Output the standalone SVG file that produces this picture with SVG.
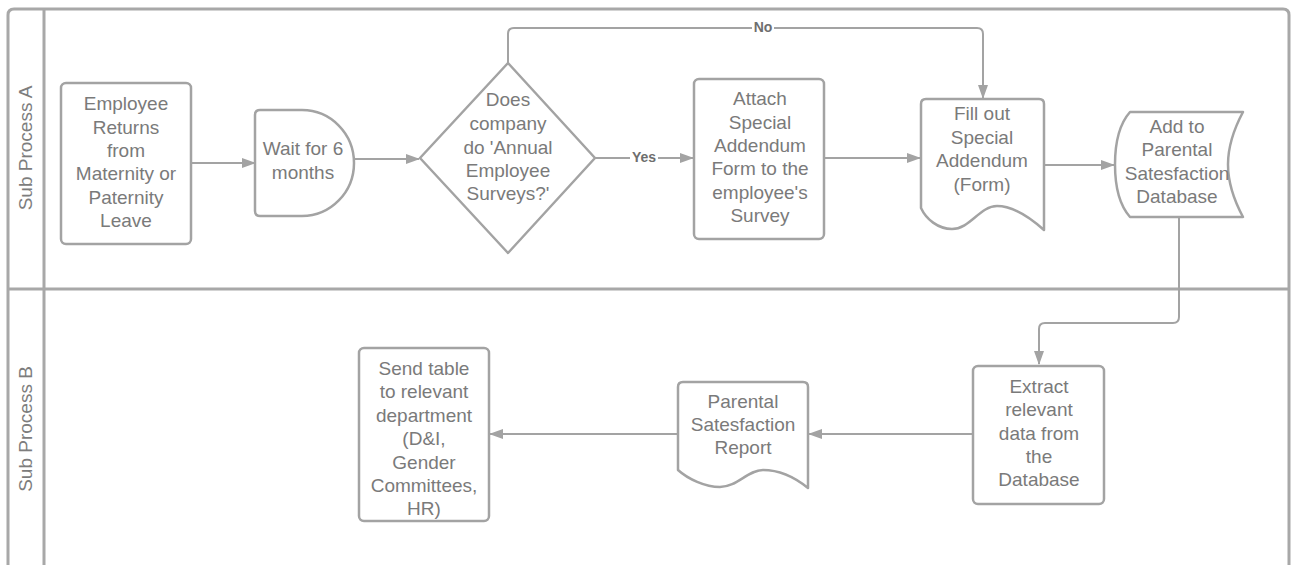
<svg xmlns="http://www.w3.org/2000/svg" width="1293" height="565" viewBox="0 0 1293 565">
<defs>
<style>
.frame{fill:none;stroke:#a8a8a8;stroke-width:3}
.shape{fill:#fff;stroke:#a3a3a3;stroke-width:2.5;stroke-linejoin:round}
.conn{fill:none;stroke:#a3a3a3;stroke-width:2}
.t{font-family:"Liberation Sans",Arial,sans-serif;font-size:19px;fill:#7a7a7a;text-anchor:middle}
.lane{font-family:"Liberation Sans",Arial,sans-serif;font-size:19px;fill:#7d7d7d;text-anchor:middle}
.lbl{font-family:"Liberation Sans",Arial,sans-serif;font-size:14px;font-weight:bold;fill:#6e6e6e;text-anchor:middle}
</style>
<marker id="arr" viewBox="0 0 14 10" refX="13" refY="5" markerWidth="14" markerHeight="10" markerUnits="userSpaceOnUse" orient="auto">
<path d="M0,0 L14,5 L0,10 Z" fill="#a3a3a3"/>
</marker>
</defs>
<rect width="1293" height="565" fill="#fff"/>
<g id="pool">
<path class="frame" d="M8,570 V15 Q8,9 14,9 H1283 Q1289,9 1289,15 V570"/>
<line class="frame" x1="44" y1="9" x2="44" y2="570"/>
<line class="frame" x1="8" y1="289" x2="1289" y2="289"/>
<text class="lane" transform="translate(32,148) rotate(-90)">Sub Process A</text>
<text class="lane" transform="translate(32,429) rotate(-90)">Sub Process B</text>
</g>
<g id="connectors">
<line class="conn" x1="191" y1="163" x2="255" y2="163" marker-end="url(#arr)"/>
<line class="conn" x1="354" y1="159" x2="419" y2="159" marker-end="url(#arr)"/>
<line class="conn" x1="595" y1="158" x2="693" y2="158" marker-end="url(#arr)"/>
<rect x="630" y="150" width="28" height="15" fill="#fff"/>
<text class="lbl" x="644" y="162">Yes</text>
<path class="conn" d="M508,63 V34 Q508,28 514,28 H977 Q983,28 983,34 V98" marker-end="url(#arr)"/>
<rect x="752" y="20" width="22" height="15" fill="#fff"/>
<text class="lbl" x="763" y="32">No</text>
<line class="conn" x1="824" y1="158" x2="920" y2="158" marker-end="url(#arr)"/>
<line class="conn" x1="1044" y1="165" x2="1114" y2="165" marker-end="url(#arr)"/>
<path class="conn" d="M1179,217 V317 Q1179,323 1173,323 H1045 Q1039,323 1039,329 V364" marker-end="url(#arr)"/>
<line class="conn" x1="973" y1="434" x2="809" y2="434" marker-end="url(#arr)"/>
<line class="conn" x1="678" y1="434" x2="490" y2="434" marker-end="url(#arr)"/>
</g>
<g id="n-employee">
<rect class="shape" x="61" y="83" width="130" height="161" rx="5"/>
<text class="t"><tspan x="126" y="110">Employee</tspan><tspan x="126" y="134">Returns</tspan><tspan x="126" y="157">from</tspan><tspan x="126" y="180">Maternity or</tspan><tspan x="126" y="204">Paternity</tspan><tspan x="126" y="227">Leave</tspan></text>
</g>
<g id="n-wait">
<path class="shape" d="M255,115 Q255,110 260,110 H302 A52,53 0 0 1 302,216 H260 Q255,216 255,211 Z"/>
<text class="t"><tspan x="303" y="155">Wait for 6</tspan><tspan x="303" y="179">months</tspan></text>
</g>
<g id="n-decision">
<polygon class="shape" points="508,63 595,158 508,253 420,158"/>
<text class="t"><tspan x="508" y="106">Does</tspan><tspan x="508" y="130">company</tspan><tspan x="508" y="154">do 'Annual</tspan><tspan x="508" y="177">Employee</tspan><tspan x="508" y="200">Surveys?'</tspan></text>
</g>
<g id="n-attach">
<rect class="shape" x="694" y="79" width="130" height="160" rx="5"/>
<text class="t"><tspan x="760" y="105">Attach</tspan><tspan x="760" y="129">Special</tspan><tspan x="760" y="152">Addendum</tspan><tspan x="760" y="175">Form to the</tspan><tspan x="760" y="199">employee's</tspan><tspan x="760" y="222">Survey</tspan></text>
</g>
<g id="n-fillout">
<path class="shape" d="M921,104 Q921,99 926,99 H1039 Q1044,99 1044,104 V230 C1025,213 1010,206 997,206 C980,206 970,229 952,229 C938,229 926,219 921,208 Z"/>
<text class="t"><tspan x="982" y="120">Fill out</tspan><tspan x="982" y="143.5">Special</tspan><tspan x="982" y="167">Addendum</tspan><tspan x="982" y="190.5">(Form)</tspan></text>
</g>
<g id="n-database">
<path class="shape" d="M1130,112 H1243 Q1228,140 1228,164.5 Q1228,189 1243,217 H1130 Q1115,200 1115,164.5 Q1115,129 1130,112 Z"/>
<text class="t"><tspan x="1177" y="133">Add to</tspan><tspan x="1177" y="156">Parental</tspan><tspan x="1177" y="180">Satesfaction</tspan><tspan x="1177" y="203">Database</tspan></text>
</g>
<g id="n-extract">
<rect class="shape" x="973" y="366" width="131" height="138" rx="5"/>
<text class="t"><tspan x="1039" y="393">Extract</tspan><tspan x="1039" y="416">relevant</tspan><tspan x="1039" y="440">data from</tspan><tspan x="1039" y="463">the</tspan><tspan x="1039" y="486">Database</tspan></text>
</g>
<g id="n-report">
<path class="shape" d="M678,387 Q678,382 683,382 H803 Q808,382 808,387 V488 C792,475 778,470 763,470 C748,470 737,487 720,487 C705,487 688,479 678,470 Z"/>
<text class="t"><tspan x="743" y="408">Parental</tspan><tspan x="743" y="431">Satesfaction</tspan><tspan x="743" y="454">Report</tspan></text>
</g>
<g id="n-send">
<rect class="shape" x="359" y="348" width="130" height="173" rx="5"/>
<text class="t"><tspan x="424" y="375">Send table</tspan><tspan x="424" y="398.4">to relevant</tspan><tspan x="424" y="421.8">department</tspan><tspan x="424" y="445.2">(D&amp;I,</tspan><tspan x="424" y="468.6">Gender</tspan><tspan x="424" y="492">Committees,</tspan><tspan x="424" y="515.4">HR)</tspan></text>
</g>
</svg>
